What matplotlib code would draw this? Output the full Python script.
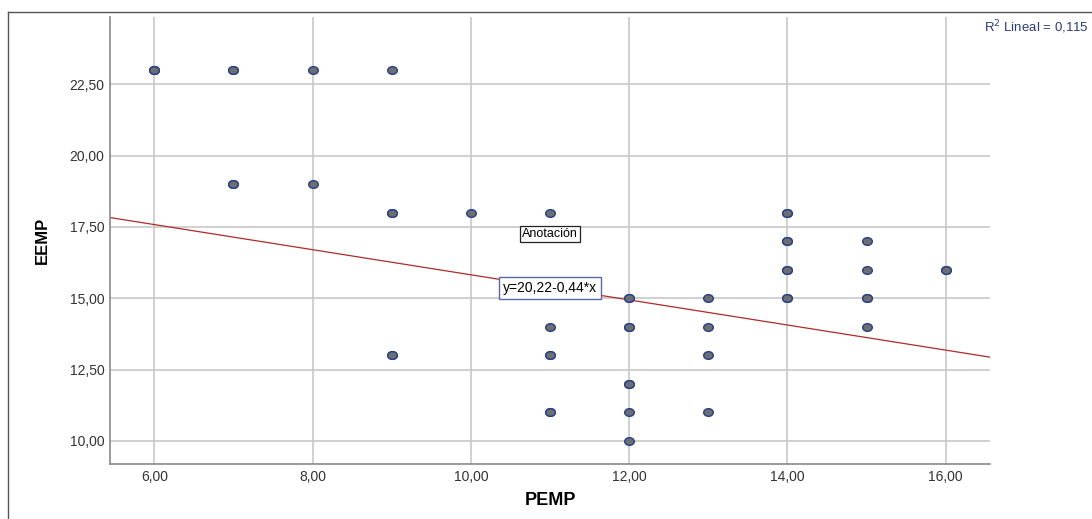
import matplotlib
matplotlib.use("Agg")
import matplotlib.pyplot as plt
from matplotlib.lines import Line2D
from matplotlib.path import Path
from matplotlib.ticker import FuncFormatter

plt.rcParams["font.family"] = ["Liberation Sans", "DejaVu Sans"]

# PEMP / EEMP pairs (repeats = overlapping cases, drawn thicker)
pemp = [6, 6, 6, 7, 7, 7, 7, 8, 8, 9, 9, 9, 9, 9,
        10, 11, 11, 11, 11, 11, 11,
        12, 12, 12, 12, 12, 12, 12, 12,
        13, 13, 13, 13,
        14, 14, 14, 14, 14, 14, 14, 14,
        15, 15, 15, 15, 15, 16, 16]
eemp = [23, 23, 23, 23, 23, 19, 19, 23, 19, 23, 18, 18, 13, 13,
        18, 18, 14, 13, 13, 11, 11,
        15, 15, 14, 14, 12, 12, 11, 10,
        15, 14, 13, 11,
        18, 18, 17, 17, 16, 16, 15, 15,
        17, 16, 15, 15, 14, 16, 16]
intercept = 20.22
slope = -0.44
r2_text = "R$^2$ Lineal = 0,115"
x_ticks = [6, 8, 10, 12, 14, 16]
y_ticks = [10, 12.5, 15, 17.5, 20, 22.5]

# slightly flattened circle, like the SPSS markers
circ = Path.unit_circle()
oval = Path(circ.vertices * [1.0, 0.8], circ.codes)

fig = plt.figure(figsize=(10.92, 5.19), dpi=100)
ax = fig.add_axes([0.1007, 0.106, 0.806, 0.861])

x_lo, x_hi = 5.44, 16.56
ax.set_xlim(x_lo, x_hi)
ax.set_ylim(9.19, 24.85)

ax.set_xticks(x_ticks)
ax.set_yticks(y_ticks)
comma = FuncFormatter(lambda v, p: f"{v:.2f}".replace(".", ","))
ax.xaxis.set_major_formatter(comma)
ax.yaxis.set_major_formatter(comma)
ax.tick_params(length=0, labelsize=10, colors="#333333", pad=4)
ax.grid(True, color="#c8c8c8", lw=1.2)
ax.set_axisbelow(True)
for s in ("top", "right"):
    ax.spines[s].set_visible(False)
for s in ("left", "bottom"):
    ax.spines[s].set_color("#8a8a8a")
    ax.spines[s].set_linewidth(1.2)

# fit line
ax.plot([x_lo, x_hi], [intercept + slope * x_lo, intercept + slope * x_hi],
        color="#b02a2a", lw=0.9, zorder=2)

ax.scatter(pemp, eemp, s=48, marker=oval, facecolor="#6e6e72",
           edgecolor="#24408a", linewidths=1.0, zorder=3)

ax.set_xlabel("PEMP", fontsize=13, fontweight="bold", labelpad=6)
ax.set_ylabel("EEMP", fontsize=12, fontweight="bold", labelpad=14)

ax.text(11.0, 17.25, "Anotación", ha="center", va="center", fontsize=9,
        bbox=dict(boxstyle="square,pad=0.15", fc="white", ec="#222222", lw=0.9))
ax.text(11.0, 15.35, "y=20,22-0,44*x", ha="center", va="center", fontsize=10,
        bbox=dict(boxstyle="square,pad=0.3", fc="white", ec="#5a6aa8", lw=1.0))

fig.text(0.997, 0.948, r2_text, fontsize=9.5, color="#2a3a7a", ha="right", va="center")

# outer chart frame
fig.add_artist(Line2D([8 / 1092, 1.0], [1 - 12 / 519] * 2, color="#555555", lw=1.0))
fig.add_artist(Line2D([8 / 1092] * 2, [0, 1 - 12 / 519], color="#555555", lw=1.0))

fig.savefig("out.png", dpi=100, facecolor="white")
